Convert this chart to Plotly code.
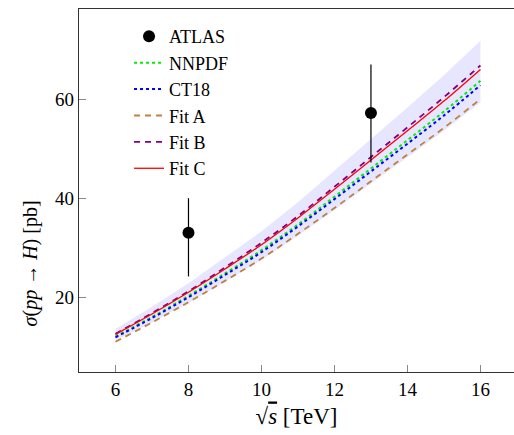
import plotly.graph_objects as go

sqrt_s = [6, 7, 8, 9, 10, 11, 12, 13, 14, 15, 16]
fit_c = [12.5, 16.6, 21.0, 25.7, 30.6, 36.0, 41.8, 47.7, 53.6, 59.6, 66.0]
fit_b = [12.6, 16.8, 21.2, 26.0, 31.0, 36.4, 42.3, 48.3, 54.3, 60.4, 66.8]
nnpdf = [12.1, 16.0, 20.3, 24.8, 29.5, 34.7, 40.3, 46.0, 51.7, 57.5, 63.7]
ct18 = [11.9, 15.8, 20.0, 24.5, 29.1, 34.3, 39.8, 45.4, 51.0, 56.7, 62.8]
fit_a = [11.0, 14.9, 19.0, 23.3, 27.8, 32.8, 38.0, 43.4, 48.8, 54.2, 60.0]
band_hi = [13.6, 18.1, 22.8, 28.0, 33.3, 39.2, 45.5, 51.9, 58.3, 64.8, 71.8]
band_lo = [11.3, 14.9, 18.9, 23.1, 27.5, 32.4, 37.6, 42.9, 48.2, 53.6, 59.3]

atlas_x = [8, 13]
atlas_y = [33.0, 57.2]
atlas_up = [7.0, 9.8]
atlas_dn = [8.8, 10.0]

FONT = "Liberation Serif"

fig = go.Figure()
fig.add_trace(go.Scatter(x=sqrt_s, y=band_lo, mode="lines", line=dict(width=0),
                         showlegend=False, hoverinfo="skip"))
fig.add_trace(go.Scatter(x=sqrt_s, y=band_hi, mode="lines", line=dict(width=0),
                         fill="tonexty", fillcolor="#e6e6ff", showlegend=False, hoverinfo="skip"))

curves = [
    ("NNPDF", nnpdf, "#00ee00", "dot", 2),
    ("CT18", ct18, "#0000ff", "dot", 2),
    ("Fit A", fit_a, "#bf8040", "6px,5px", 1.8),
    ("Fit B", fit_b, "#800080", "6px,5px", 1.8),
    ("Fit C", fit_c, "#ff0000", "solid", 1.3),
]
for i, (name, vals, col, dash, w) in enumerate(curves):
    fig.add_trace(go.Scatter(x=sqrt_s, y=vals, mode="lines", name=name,
                             line=dict(color=col, dash=dash, width=w, shape="spline"),
                             legendrank=2 + i))

fig.add_trace(go.Scatter(x=atlas_x, y=atlas_y, mode="markers", name="ATLAS",
                         marker=dict(color="black", size=12),
                         error_y=dict(type="data", symmetric=False, array=atlas_up,
                                      arrayminus=atlas_dn, color="black", thickness=1.2, width=0),
                         legendrank=1))

fig.add_annotation(text="<i>σ</i>(<i>pp</i> → <i>H</i>) [pb]", xref="paper", yref="paper",
                   x=-0.112, y=0.3, textangle=-90, showarrow=False,
                   xanchor="center", yanchor="middle", font=dict(family=FONT, size=20))

fig.update_layout(
    width=514, height=435,
    margin=dict(l=79, r=0, t=9, b=63),
    plot_bgcolor="white", paper_bgcolor="white",
    font=dict(family=FONT, size=19, color="black"),
    legend=dict(x=0.115, y=0.975, xanchor="left", yanchor="top", traceorder="normal",
                bgcolor="rgba(0,0,0,0)", font=dict(family=FONT, size=18, color="black"),
                tracegroupgap=0),
    xaxis=dict(range=[5, 16.92], tickvals=[6, 8, 10, 12, 14, 16], ticks="inside",
               ticklen=7, tickcolor="#888", showline=True, linecolor="#333", linewidth=1.2,
               mirror=True, showgrid=False, zeroline=False,
               title=dict(text="√<span style='text-decoration:overline'><i>s</i></span> [TeV]",
                          standoff=8)),
    yaxis=dict(range=[4.9, 78.2], tickvals=[20, 40, 60], ticks="inside",
               ticklen=7, tickcolor="#888", showline=True, linecolor="#333", linewidth=1.2,
               showgrid=False, zeroline=False),
)

fig.write_html("out.html")
